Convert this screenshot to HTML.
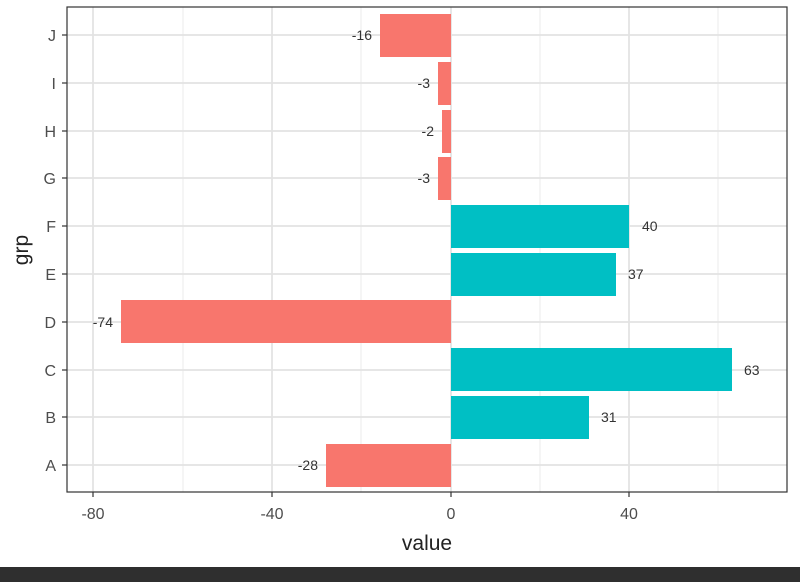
<!DOCTYPE html>
<html><head><style>body{margin:0;background:#fff}svg{display:block}text{font-family:"Liberation Sans",sans-serif}</style></head><body>
<svg width="800" height="582" viewBox="0 0 800 582" xmlns="http://www.w3.org/2000/svg">
<rect width="800" height="582" fill="#fff"/>
<g stroke="#ebebeb" stroke-width="1">
<line x1="183" y1="7" x2="183" y2="492"/><line x1="361" y1="7" x2="361" y2="492"/><line x1="540" y1="7" x2="540" y2="492"/><line x1="718" y1="7" x2="718" y2="492"/>
</g>
<g stroke="#e3e3e3" stroke-width="1.8">
<line x1="93" y1="7" x2="93" y2="492"/><line x1="272" y1="7" x2="272" y2="492"/><line x1="451" y1="7" x2="451" y2="492"/><line x1="629" y1="7" x2="629" y2="492"/>
<line x1="67" y1="35" x2="787" y2="35"/><line x1="67" y1="83" x2="787" y2="83"/><line x1="67" y1="131" x2="787" y2="131"/><line x1="67" y1="178" x2="787" y2="178"/><line x1="67" y1="226" x2="787" y2="226"/><line x1="67" y1="274" x2="787" y2="274"/><line x1="67" y1="322" x2="787" y2="322"/><line x1="67" y1="370" x2="787" y2="370"/><line x1="67" y1="417" x2="787" y2="417"/><line x1="67" y1="465" x2="787" y2="465"/>
</g>
<g fill="#f8766d">
<rect x="380" y="14" width="71" height="43"/>
<rect x="438" y="62" width="13" height="43"/>
<rect x="442" y="110" width="9" height="43"/>
<rect x="438" y="157" width="13" height="43"/>
<rect x="121" y="300" width="330" height="43"/>
<rect x="326" y="444" width="125" height="43"/>
</g>
<g fill="#00bfc4">
<rect x="451" y="205" width="178" height="43"/>
<rect x="451" y="253" width="165" height="43"/>
<rect x="451" y="348" width="281" height="43"/>
<rect x="451" y="396" width="138" height="43"/>
</g>
<g font-size="14" fill="#333">
<text x="372" y="40" text-anchor="end">-16</text>
<text x="430" y="88" text-anchor="end">-3</text>
<text x="434" y="136" text-anchor="end">-2</text>
<text x="430" y="183" text-anchor="end">-3</text>
<text x="113" y="327" text-anchor="end">-74</text>
<text x="318" y="470" text-anchor="end">-28</text>
<text x="642" y="231">40</text>
<text x="628" y="279">37</text>
<text x="744" y="375">63</text>
<text x="601" y="422">31</text>
</g>
<rect x="67" y="7" width="720" height="485" fill="none" stroke="#333" stroke-width="1.2"/>
<g stroke="#333" stroke-width="1.2">
<line x1="62" y1="35" x2="67" y2="35"/><line x1="62" y1="83" x2="67" y2="83"/><line x1="62" y1="131" x2="67" y2="131"/><line x1="62" y1="178" x2="67" y2="178"/><line x1="62" y1="226" x2="67" y2="226"/><line x1="62" y1="274" x2="67" y2="274"/><line x1="62" y1="322" x2="67" y2="322"/><line x1="62" y1="370" x2="67" y2="370"/><line x1="62" y1="417" x2="67" y2="417"/><line x1="62" y1="465" x2="67" y2="465"/>
<line x1="93" y1="492" x2="93" y2="497"/><line x1="272" y1="492" x2="272" y2="497"/><line x1="451" y1="492" x2="451" y2="497"/><line x1="629" y1="492" x2="629" y2="497"/>
</g>
<g font-size="16" fill="#4d4d4d" text-anchor="end">
<text x="56" y="41">J</text><text x="56" y="89">I</text><text x="56" y="137">H</text><text x="56" y="184">G</text><text x="56" y="232">F</text><text x="56" y="280">E</text><text x="56" y="328">D</text><text x="56" y="376">C</text><text x="56" y="423">B</text><text x="56" y="471">A</text>
</g>
<g font-size="16" fill="#4d4d4d" text-anchor="middle">
<text x="93" y="519">-80</text><text x="272" y="519">-40</text><text x="451" y="519">0</text><text x="629" y="519">40</text>
</g>
<text x="427" y="550" font-size="21" fill="#222" text-anchor="middle">value</text>
<text x="28" y="250" font-size="21" fill="#222" text-anchor="middle" transform="rotate(-90 28 250)">grp</text>
<rect x="0" y="567" width="800" height="15" fill="#2f2f2f"/>
</svg>
</body></html>
